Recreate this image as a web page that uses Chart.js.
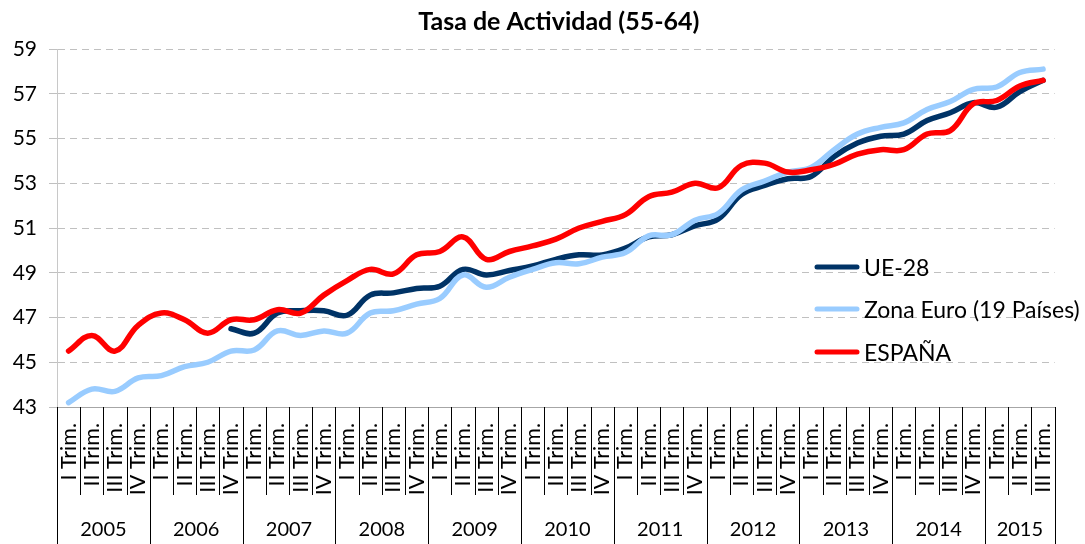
<!DOCTYPE html>
<html lang="es">

<head>
    <meta charset="UTF-8">
    <script src="https://cdn.jsdelivr.net/npm/chart.js@4.4.0/dist/chart.umd.min.js"></script>
    <title>Tasa de Actividad (55-64)</title>
    <style>
        body {
            margin: 0;
            background: #ffffff;
        }
    </style>
</head>

<body>
    <canvas id="myChart" width="1085" height="544"></canvas>
    <script>
        const years = ['2005', '2006', '2007', '2008', '2009', '2010', '2011', '2012', '2013', '2014', '2015'];
        const quarterNames = ['I Trim.', 'II Trim.', 'III Trim.', 'IV Trim.'];
        const quartersPerYear = [4, 4, 4, 4, 4, 4, 4, 4, 4, 4, 3];

        const ue28 = [null, null, null, null, null, null, null,
            46.5, 46.3, 47.2, 47.3, 47.3, 47.1, 48.0, 48.1, 48.3, 48.4,
            49.15, 48.9, 49.1, 49.3, 49.6, 49.8, 49.8, 50.1, 50.6, 50.7,
            51.1, 51.4, 52.5, 52.9, 53.2, 53.3, 54.2, 54.8, 55.1, 55.2,
            55.8, 56.15, 56.6, 56.4, 57.1, 57.6];
        const zonaEuro = [43.2, 43.8, 43.7, 44.3, 44.4, 44.8, 45.0, 45.5, 45.55, 46.4,
            46.2, 46.4, 46.3, 47.2, 47.3, 47.6, 47.85, 48.9, 48.35, 48.8,
            49.15, 49.45, 49.4, 49.7, 49.9, 50.65, 50.7, 51.35, 51.65, 52.7,
            53.1, 53.5, 53.7, 54.5, 55.2, 55.5, 55.7, 56.3, 56.65, 57.2,
            57.3, 57.95, 58.1];
        const espana = [45.5, 46.2, 45.5, 46.65, 47.2, 46.9, 46.3, 46.9, 46.9, 47.35,
            47.2, 48.0, 48.65, 49.15, 48.95, 49.8, 49.95, 50.6, 49.6, 49.95,
            50.2, 50.5, 51.0, 51.3, 51.6, 52.4, 52.6, 53.0, 52.8, 53.8,
            53.9, 53.5, 53.6, 53.85, 54.3, 54.5, 54.5, 55.2, 55.35, 56.55,
            56.7, 57.35, 57.6];

        const xlabels = [];
        quartersPerYear.forEach(n => {
            for (let q = 0; q < n; q++) xlabels.push(quarterNames[q]);
        });

        const FONT = 'Lato, "Open Sans", sans-serif';

        // title centred over the plot area
        const titlePlugin = {
            id: 'plotTitle',
            afterDraw(chart) {
                const ctx = chart.ctx;
                const area = chart.chartArea;
                ctx.save();
                ctx.font = 'bold 25px ' + FONT;
                ctx.fillStyle = '#000';
                ctx.textAlign = 'center';
                ctx.textBaseline = 'middle';
                ctx.fillText('Tasa de Actividad (55-64)', (area.left + area.right) / 2 + 3, 22);
                ctx.restore();
            }
        };

        // quarter / year separators and year labels under the x axis
        const yearAxisPlugin = {
            id: 'yearAxis',
            afterDraw(chart) {
                const ctx = chart.ctx;
                const x = chart.scales.x;
                const top = chart.chartArea.bottom;
                ctx.save();
                ctx.strokeStyle = '#000';
                ctx.lineWidth = 1;
                let idx = 0;
                years.forEach((year, k) => {
                    const start = idx;
                    const end = idx + quartersPerYear[k];
                    for (let i = start; i <= end; i++) {
                        const px = Math.round(x.getPixelForValue(i - 0.5)) + 0.5;
                        const full = (i === start || i === end);
                        ctx.beginPath();
                        ctx.moveTo(px, top);
                        ctx.lineTo(px, full ? chart.height : top + 88);
                        ctx.stroke();
                    }
                    const cx = (x.getPixelForValue(start - 0.5) + x.getPixelForValue(end - 0.5)) / 2;
                    ctx.font = '20px ' + FONT;
                    ctx.fillStyle = '#000';
                    ctx.textAlign = 'center';
                    ctx.textBaseline = 'middle';
                    ctx.fillText(year, cx, 530);
                    idx = end;
                });
                ctx.restore();
            }
        };

        // legend drawn inside the plot, right side
        const innerLegendPlugin = {
            id: 'innerLegend',
            afterDraw(chart) {
                const ctx = chart.ctx;
                const rows = [267, 309, 352];
                ctx.save();
                chart.data.datasets.forEach((ds, i) => {
                    ctx.strokeStyle = ds.borderColor;
                    ctx.lineWidth = 5;
                    ctx.lineCap = 'round';
                    ctx.beginPath();
                    ctx.moveTo(817, rows[i]);
                    ctx.lineTo(857, rows[i]);
                    ctx.stroke();
                    ctx.font = '23px ' + FONT;
                    ctx.fillStyle = '#000';
                    ctx.textAlign = 'left';
                    ctx.textBaseline = 'middle';
                    ctx.fillText(ds.label, 864, rows[i] + 2);
                });
                ctx.restore();
            }
        };

        const ctx = document.getElementById('myChart').getContext('2d');
        const myChart = new Chart(ctx, {
            type: 'line',
            data: {
                labels: xlabels,
                datasets: [{
                    label: 'UE-28',
                    data: ue28,
                    borderColor: '#003366',
                    order: 2
                }, {
                    label: 'Zona Euro (19 Países)',
                    data: zonaEuro,
                    borderColor: '#99CCFF',
                    order: 1
                }, {
                    label: 'ESPAÑA',
                    data: espana,
                    borderColor: '#FF0000',
                    order: 0
                }]
            },
            options: {
                responsive: false,
                animation: false,
                layout: {
                    padding: { top: 49, right: 12, left: 0, bottom: 0 }
                },
                elements: {
                    line: {
                        borderWidth: 5.5,
                        tension: 0.4,
                        borderCapStyle: 'round',
                        borderJoinStyle: 'round',
                        fill: false
                    },
                    point: { radius: 0, hoverRadius: 0 }
                },
                plugins: {
                    legend: { display: false },
                    title: { display: false },
                    tooltip: { enabled: false }
                },
                scales: {
                    x: {
                        offset: true,
                        grid: { drawOnChartArea: false, drawTicks: false },
                        border: { color: '#a6a6a6', width: 1 },
                        ticks: {
                            autoSkip: false,
                            minRotation: 90,
                            maxRotation: 90,
                            padding: 16,
                            color: '#000',
                            font: { family: FONT, size: 21.5 }
                        },
                        afterFit(scale) { scale.height = 137; }
                    },
                    y: {
                        min: 43,
                        max: 59,
                        ticks: {
                            stepSize: 2,
                            padding: 12,
                            color: '#000',
                            font: { family: FONT, size: 21 }
                        },
                        grid: { color: '#c0c0c0', tickLength: 8 },
                        border: { color: '#c8c8c8', dash: [7, 5] },
                        afterFit(scale) { scale.width = 57; }
                    }
                }
            },
            plugins: [titlePlugin, yearAxisPlugin, innerLegendPlugin]
        });
    </script>
</body>

</html>
